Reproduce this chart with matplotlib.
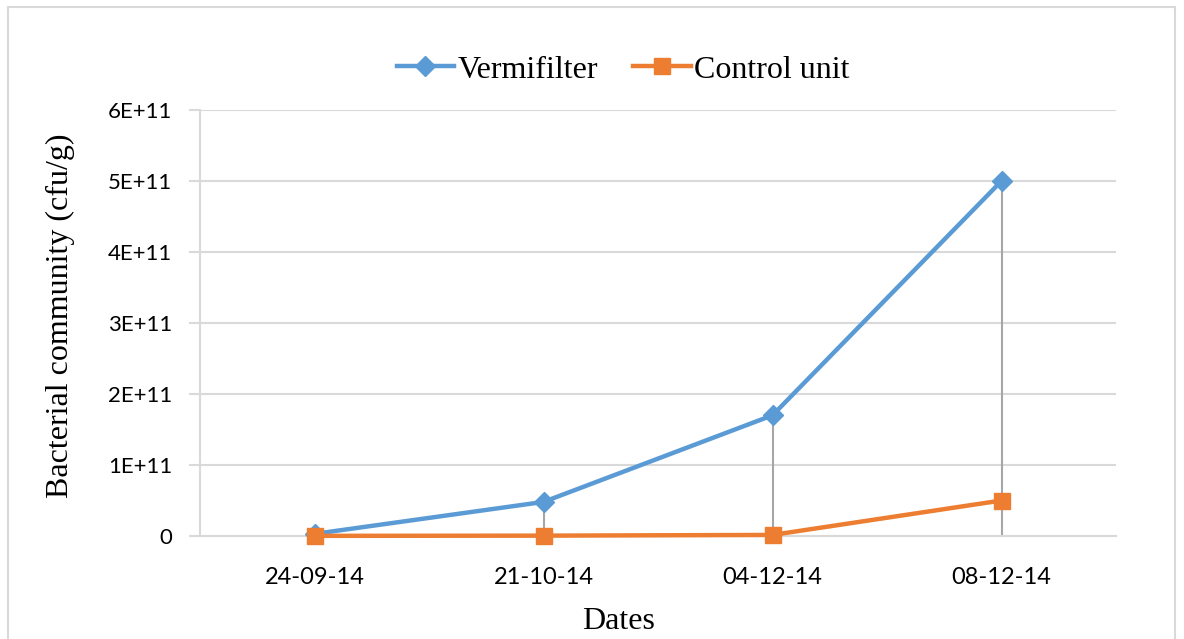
import matplotlib
matplotlib.use('Agg')
import matplotlib.pyplot as plt
from matplotlib.ticker import FixedLocator

dates = ['24-09-14', '21-10-14', '04-12-14', '08-12-14']
vermifilter = [3e9, 4.8e10, 1.7e11, 5.0e11]
control = [2e8, 5e8, 1.5e9, 5.0e10]
yticks = [0, 1e11, 2e11, 3e11, 4e11, 5e11, 6e11]
ytick_labels = ['0', '1E+11', '2E+11', '3E+11', '4E+11', '5E+11', '6E+11']

blue = '#5B9BD5'
orange = '#ED7D31'
grid_col = '#D9D9D9'

fig = plt.figure(figsize=(11.84, 6.39), dpi=100)
ax = fig.add_axes([200 / 1184, 1 - 536 / 639, 916 / 1184, 426 / 639])

x = list(range(len(dates)))

# drop lines from the higher series down to the axis
ax.vlines(x, 0, vermifilter, colors='#A6A6A6', lw=1.5, zorder=2)

ax.plot(x, vermifilter, color=blue, lw=3.2, marker='D', markersize=10,
        label='Vermifilter', zorder=3, clip_on=False)
ax.plot(x, control, color=orange, lw=3.2, marker='s', markersize=12,
        label='Control unit', zorder=4, clip_on=False)

ax.set_xlim(-0.5, 3.5)
ax.set_ylim(0, 6e11)
ax.set_xticks(x)
ax.set_xticklabels(dates, fontfamily='Lato', fontsize=17)
ax.yaxis.set_major_locator(FixedLocator(yticks))
ax.set_yticklabels(ytick_labels, fontfamily='Lato', fontsize=16)
ax.tick_params(axis='x', length=0, pad=22)
ax.tick_params(axis='y', length=8, color=grid_col, width=1.5, pad=12)

ax.grid(axis='y', color=grid_col, lw=1.5, zorder=0)
for side in ['top', 'right']:
    ax.spines[side].set_visible(False)
ax.spines['left'].set_color(grid_col)
ax.spines['left'].set_linewidth(1.5)
ax.spines['bottom'].set_color(grid_col)
ax.spines['bottom'].set_linewidth(1.5)

ax.set_xlabel('Dates', fontfamily='Liberation Serif', fontsize=23)
ax.xaxis.set_label_coords(0.457, -0.167)
ax.set_ylabel('Bacterial community (cfu/g)', fontfamily='Liberation Serif',
              fontsize=23)
ax.yaxis.set_label_coords(-0.136, 0.516)

fig.legend(loc='center', bbox_to_anchor=(623 / 1184, 1 - 70 / 639), ncol=2,
           frameon=False, prop={'family': 'Liberation Serif', 'size': 23},
           handlelength=1.8, handletextpad=0.1, columnspacing=1.1)

# outer chart border
fig.add_artist(plt.Rectangle((8 / 1184, -0.01), 1167 / 1184, 1 - 7 / 639 + 0.01,
                             transform=fig.transFigure, fill=False,
                             edgecolor=grid_col, lw=1.5))

plt.savefig('out.png', dpi=100)
